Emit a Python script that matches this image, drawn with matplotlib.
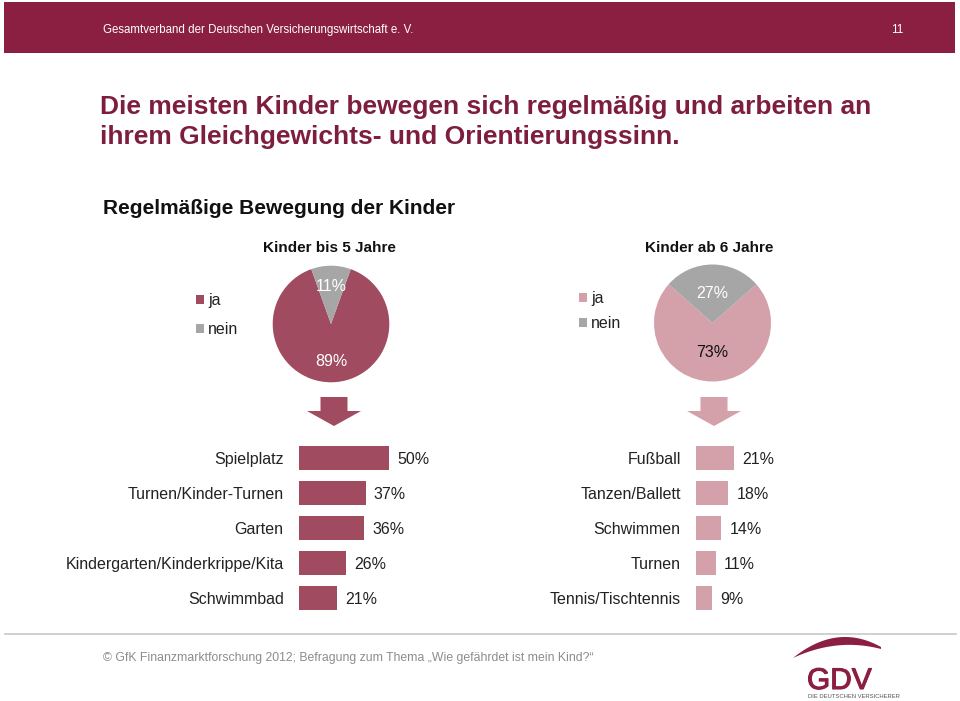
import numpy as np
import matplotlib.pyplot as plt
import matplotlib.patheffects as pe
from matplotlib.patches import Rectangle, Polygon

plt.rcParams['font.family'] = ['Liberation Sans', 'DejaVu Sans']

# data
pie_labels = ['ja', 'nein']
pie_small = [89, 11]       # Kinder bis 5 Jahre
pie_big = [73, 27]         # Kinder ab 6 Jahre

cats_small = ['Spielplatz', 'Turnen/Kinder-Turnen', 'Garten',
              'Kindergarten/Kinderkrippe/Kita', 'Schwimmbad']
vals_small = [50, 37, 36, 26, 21]
cats_big = ['Fußball', 'Tanzen/Ballett', 'Schwimmen', 'Turnen',
            'Tennis/Tischtennis']
vals_big = [21, 18, 14, 11, 9]

W, H = 960, 701
wine = '#8B1F41'
dark_red = '#A04B5F'
pink = '#D4A0AA'
grey = '#A6A6A6'

fig = plt.figure(figsize=(W / 100, H / 100), dpi=100)
fig.patch.set_facecolor('white')


def px_axes(x0, y0, w, h):
    # axes placed in pixel coords, y measured from top
    return fig.add_axes([x0 / W, 1 - (y0 + h) / H, w / W, h / H])


# background / decoration layer in pixel coordinates
bg = fig.add_axes([0, 0, 1, 1], zorder=0)
bg.set_xlim(0, W)
bg.set_ylim(H, 0)
bg.axis('off')

bg.add_patch(Rectangle((4, 2), 951, 51, color=wine, lw=0))
bg.text(103, 30, 'Gesamtverband der Deutschen Versicherungswirtschaft e. V.',
        color='white', fontsize=8.3, va='center')
bg.text(897, 30, '11', color='white', fontsize=8.5, va='center', ha='center')

bg.text(100, 114, 'Die meisten Kinder bewegen sich regelmäßig und arbeiten an',
        color='#7E1E3E', fontsize=19, fontweight='bold', va='baseline')
bg.text(100, 144, 'ihrem Gleichgewichts- und Orientierungssinn.',
        color='#7E1E3E', fontsize=19, fontweight='bold', va='baseline')

bg.text(103, 214, 'Regelmäßige Bewegung der Kinder', color='#111111',
        fontsize=15, fontweight='bold', va='baseline')
bg.text(329, 252, 'Kinder bis 5 Jahre', color='#111111', fontsize=11,
        fontweight='bold', va='baseline', ha='center')
bg.text(709, 252, 'Kinder ab 6 Jahre', color='#111111', fontsize=11,
        fontweight='bold', va='baseline', ha='center')


def down_arrow(cx, color):
    pts = [(cx - 13.5, 397), (cx + 13.5, 397), (cx + 13.5, 411),
           (cx + 27, 411), (cx, 426), (cx - 27, 411), (cx - 13.5, 411)]
    bg.add_patch(Polygon(pts, closed=True, color=color, lw=0))


down_arrow(334, dark_red)
down_arrow(714, pink)

# footer
bg.plot([5, 956], [634, 634], color='#C8C8C8', lw=1.2)
bg.text(103, 661, '© GfK Finanzmarktforschung 2012; Befragung zum Thema '
        '„Wie gefährdet ist mein Kind?“', color='#8C8C8C', fontsize=8.85,
        va='baseline')

# GDV logo
t = np.linspace(0, 1, 60)
x_arc = 793 + 88 * t
top = 658 - 4 * 15 * t * (1 - t) - 11 * t
bot = 658 - 4 * 8 * t * (1 - t) - 9 * t
bg.fill(np.concatenate([x_arc, x_arc[::-1]]),
        np.concatenate([top, bot[::-1]]), color=wine, lw=0)
bg.text(807, 689, 'GDV', color=wine, fontsize=21.5, va='baseline',
        path_effects=[pe.withStroke(linewidth=0.8, foreground=wine)])
bg.text(808, 698, 'DIE DEUTSCHEN VERSICHERER', color='#555555', fontsize=4.2,
        va='baseline')


# pies
def draw_pie(cx, cy, r, sizes, colors, pct_dist, pct_colors, leg_xy, leg_space):
    ax = px_axes(cx - r, cy - r, 2 * r, 2 * r)
    start = 90 - (sizes[0] * 3.6 + sizes[1] * 1.8)
    wedges, _, autotexts = ax.pie(sizes, colors=colors, startangle=start,
                                  autopct='%.0f%%', pctdistance=pct_dist,
                                  textprops={'fontsize': 11.5})
    for txt, c in zip(autotexts, pct_colors):
        txt.set_color(c)
    ax.set_xlim(-1, 1)
    ax.set_ylim(-1, 1)
    ax.set_aspect('equal')
    ax.legend(wedges, pie_labels, loc='upper left',
              bbox_to_anchor=(leg_xy[0] / W, 1 - leg_xy[1] / H),
              bbox_transform=fig.transFigure, frameon=False,
              fontsize=11.5, handlelength=0.5, handleheight=0.5,
              handletextpad=0.25, labelspacing=leg_space,
              borderpad=0, borderaxespad=0, labelcolor='#222222')
    return ax


draw_pie(331, 324, 58.3, pie_small, [dark_red, grey], 0.65,
         ['white', 'white'], (196, 293), 0.9)
draw_pie(712.5, 323, 58.5, pie_big, [pink, grey], 0.5,
         ['#111111', 'white'], (579, 291), 0.62)


# bar charts
def draw_bars(x0, cats, vals, color):
    ax = px_axes(x0, 440.5, 180, 175)
    pos = np.arange(len(cats))
    ax.barh(pos, vals, height=0.7, color=color)
    ax.set_xlim(0, 100)
    ax.set_ylim(len(cats) - 0.5, -0.5)
    ax.set_yticks(pos)
    ax.set_yticklabels(cats, fontsize=11.5, color='#222222')
    ax.tick_params(axis='y', length=0, pad=11)
    ax.set_xticks([])
    for s in ax.spines.values():
        s.set_visible(False)
    ax.patch.set_alpha(0)
    for p, v in zip(pos, vals):
        ax.annotate(f'{v}%', (v, p), xytext=(6, -1),
                    textcoords='offset points', va='center', ha='left',
                    fontsize=11.5, color='#222222')
    return ax


draw_bars(299, cats_small, vals_small, dark_red)
draw_bars(696, cats_big, vals_big, pink)

fig.savefig('out.png', dpi=100)
